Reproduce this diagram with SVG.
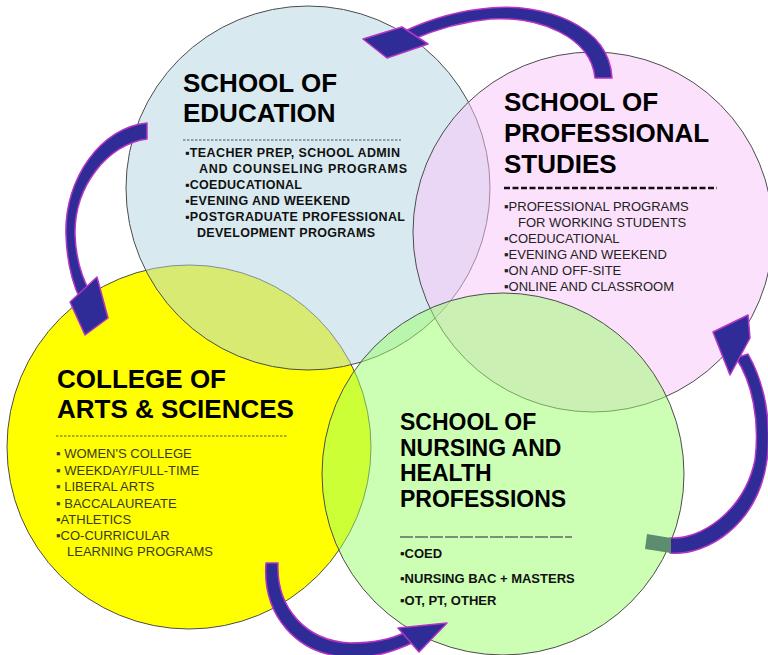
<svg xmlns="http://www.w3.org/2000/svg" width="768" height="655" viewBox="0 0 768 655">
<style>
.circ{stroke:#4d4d4d;stroke-width:1}
.title{font-family:"Liberation Sans",Arial,sans-serif;font-weight:bold;fill:#000}
.t26{font-size:26px}
.t23{font-size:23px}
.bb{font-family:"Liberation Sans",Arial,sans-serif;font-weight:bold;font-size:12.5px;fill:#111}
.bn{font-family:"Liberation Sans",Arial,sans-serif;font-weight:bold;font-size:13px;fill:#111}
.br{font-family:"Liberation Sans",Arial,sans-serif;font-size:13px;fill:#222}
.ba{font-family:"Liberation Sans",Arial,sans-serif;font-size:13px;fill:#3a3a20}
.thin{stroke:#555;stroke-width:1;stroke-dasharray:2.5 1.5}
.arrow{fill:#2f2b97;stroke:#b535c5;stroke-width:1.5;stroke-linejoin:round}
</style>
<rect width="768" height="655" fill="#fff"/>
<g id="arts">
<circle class="circ" cx="189" cy="447" r="182" fill="#ffff00"/>
<text class="title t26" x="57" y="388">COLLEGE OF</text>
<text class="title t26" x="57" y="418">ARTS &amp; SCIENCES</text>
<line class="thin" x1="56" y1="436" x2="288" y2="436"/>
<text class="ba" x="56" y="458">▪ WOMEN'S COLLEGE</text>
<text class="ba" x="56" y="474.5">▪ WEEKDAY/FULL-TIME</text>
<text class="ba" x="56" y="491">▪ LIBERAL ARTS</text>
<text class="ba" x="56" y="507.5">▪ BACCALAUREATE</text>
<text class="ba" x="56" y="523.5">▪ATHLETICS</text>
<text class="ba" x="56" y="540">▪CO-CURRICULAR</text>
<text class="ba" x="67" y="555.5">LEARNING PROGRAMS</text>
</g>
<g id="education">
<circle class="circ" cx="308" cy="188" r="182" fill="#b1d5e1" fill-opacity="0.5"/>
<text class="title t26" x="183" y="92">SCHOOL OF</text>
<text class="title t26" x="183" y="122">EDUCATION</text>
<line class="thin" x1="183" y1="140" x2="401" y2="140"/>
<text class="bb" x="185" y="157" textLength="215" lengthAdjust="spacing">▪TEACHER PREP, SCHOOL ADMIN</text>
<text class="bb" x="199" y="173" textLength="208" lengthAdjust="spacing">AND COUNSELING PROGRAMS</text>
<text class="bb" x="185" y="189" textLength="117" lengthAdjust="spacing">▪COEDUCATIONAL</text>
<text class="bb" x="185" y="205" textLength="165" lengthAdjust="spacing">▪EVENING AND WEEKEND</text>
<text class="bb" x="185" y="221" textLength="220" lengthAdjust="spacing">▪POSTGRADUATE PROFESSIONAL</text>
<text class="bb" x="197" y="237" textLength="178" lengthAdjust="spacing">DEVELOPMENT PROGRAMS</text>
</g>
<g id="professional">
<circle class="circ" cx="593" cy="232" r="180" fill="#f9c3f9" fill-opacity="0.5"/>
<text class="title t26" x="504" y="111">SCHOOL OF</text>
<text class="title t26" x="504" y="142">PROFESSIONAL</text>
<text class="title t26" x="504" y="173">STUDIES</text>
<line x1="504" y1="188" x2="717" y2="188" stroke="#111" stroke-width="2.5" stroke-dasharray="6 2.5"/>
<text class="br" x="504" y="211">▪PROFESSIONAL PROGRAMS</text>
<text class="br" x="518" y="227">FOR WORKING STUDENTS</text>
<text class="br" x="504" y="243">▪COEDUCATIONAL</text>
<text class="br" x="504" y="259">▪EVENING AND WEEKEND</text>
<text class="br" x="504" y="275">▪ON AND OFF-SITE</text>
<text class="br" x="504" y="291">▪ONLINE AND CLASSROOM</text>
</g>
<g id="nursing">
<circle class="circ" cx="503" cy="474" r="181" fill="#99ff69" fill-opacity="0.5"/>
<text class="title t23" x="400" y="430">SCHOOL OF</text>
<text class="title t23" x="400" y="455.5">NURSING AND</text>
<text class="title t23" x="400" y="481">HEALTH</text>
<text class="title t23" x="400" y="506.5">PROFESSIONS</text>
<line x1="400" y1="537" x2="572" y2="537" stroke="#666" stroke-width="1.5" stroke-dasharray="13 2"/>
<text class="bn" x="400" y="558">▪COED</text>
<text class="bn" x="400" y="582.5">▪NURSING BAC + MASTERS</text>
<text class="bn" x="400" y="605">▪OT, PT, OTHER</text>
</g>
<g id="connectors">
<path class="arrow" d="M612,78 C609,24 542,3 490,8 C454,11 426,21 405,31 L411,40 C432,31 458,22 490,19 C538,16 591,36 595,78 Z"/>
<polygon class="arrow" points="363,39 402,27 428,44 387,58"/>
<path class="arrow" d="M147,123 C102,127 64,178 66,235 C67,264 72,282 80,299 L91,294 C83,280 76,262 75,235 C74,186 108,144 147,139 Z"/>
<polygon class="arrow" points="70,302 97,277 108,318 85,335"/>
<path class="arrow" d="M266,563 C262,614 296,656 350,657 C377,658 396,650 412,643 L406,632 C392,639 374,643 350,643 C306,641 276,608 278,563 Z"/>
<polygon class="arrow" points="398,628 447,623 419,652"/>
<path class="arrow" d="M670,553 C708,556 758,524 767,460 C772,420 764,382 748,354 L736,358 C752,382 760,420 755,460 C744,512 700,540 670,538 Z"/>
<path d="M647,534 L671,538 L671,553 L645,549 Z" fill="#5d8d6e"/>
<polygon class="arrow" points="713,332 748,315 750,338 730,375"/>
</g>
</svg>
